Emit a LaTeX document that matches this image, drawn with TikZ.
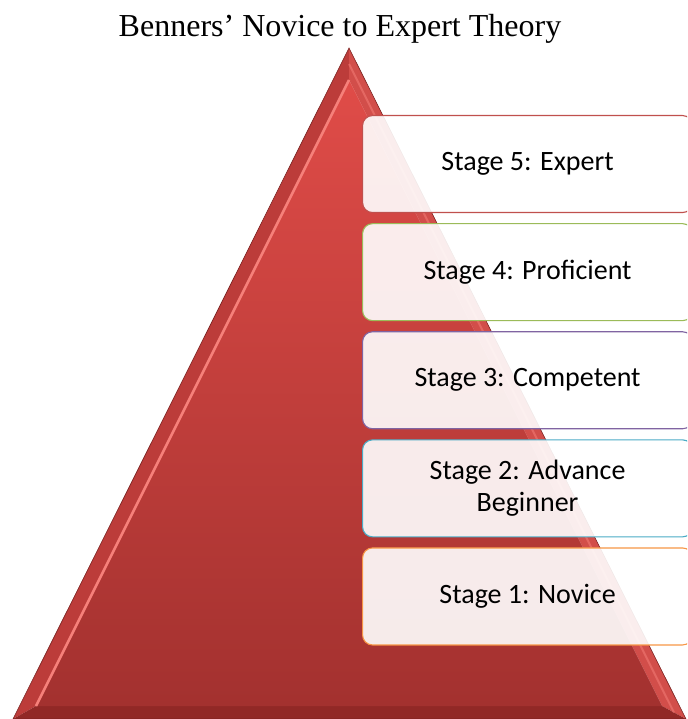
\documentclass[tikz,border=0pt]{standalone}
\usepackage{fontspec}
\setmainfont{Liberation Serif}
\newfontfamily\stagefont{Carlito}
\usepackage{tikz}
\usetikzlibrary{positioning,calc}
\usepackage{xcolor}

\definecolor{pyrdark}{RGB}{120,32,30}
\definecolor{pyrtop}{RGB}{224,76,72}
\definecolor{pyrbottom}{RGB}{163,49,47}
\definecolor{bevleft}{RGB}{188,60,58}
\definecolor{bevshine}{RGB}{246,128,122}
\definecolor{bevright}{RGB}{210,78,74}
\definecolor{bevbottom}{RGB}{145,40,38}
\definecolor{expertc}{RGB}{192,80,77}
\definecolor{proficientc}{RGB}{155,187,89}
\definecolor{competentc}{RGB}{128,100,162}
\definecolor{advancec}{RGB}{75,172,198}
\definecolor{novicec}{RGB}{247,150,70}

\begin{document}
\begin{tikzpicture}[x=1pt, y=-1pt,
  stagebox/.style={draw, line width=1.1pt, rounded corners=10pt, fill=white,
    fill opacity=0.9, text opacity=1, minimum width=330pt, minimum height=97pt,
    inner sep=0pt, align=center, font=\stagefont\fontsize{28}{32}\selectfont}]

  % Page
  \useasboundingbox (0,0) rectangle (687,719);
  \clip (0,0) rectangle (687,719);

  % Title
  \node[font=\fontsize{32}{36}\selectfont] (title) at (340,29) {Benners' Novice to Expert Theory};

  % Pyramid
  \coordinate (top) at (349,48);
  \coordinate (bl) at (13,719);
  \coordinate (br) at (686,719);
  \coordinate (itop) at (349,80);
  \coordinate (ibl) at (36,706);
  \coordinate (ibr) at (662,706);

  \fill[bevleft] (top) -- (bl) -- (ibl) -- (itop) -- cycle;
  \fill[bevright] (top) -- (br) -- (ibr) -- (itop) -- cycle;
  \fill[bevbottom] (bl) -- (br) -- (ibr) -- (ibl) -- cycle;
  \shade[top color=pyrtop, bottom color=pyrbottom] (itop) -- (ibr) -- (ibl) -- cycle;
  \draw[bevshine, line width=2.5pt] (itop) -- (ibl);
  \draw[bevshine, opacity=0.5, line width=2pt] ($(top)!0.5!(itop)$) -- ($(br)!0.5!(ibr)$);
  \draw[pyrdark, line width=0.6pt] (top) -- (br) -- (bl) -- cycle;

  % Stages
  \node[stagebox, draw=expertc, anchor=north west] (expert) at (362,115) {Stage 5: Expert};
  \node[stagebox, draw=proficientc, below=10pt of expert] (proficient) {Stage 4: Proficient};
  \node[stagebox, draw=competentc, below=10pt of proficient] (competent) {Stage 3: Competent};
  \node[stagebox, draw=advancec, below=10pt of competent] (advance) {Stage 2: Advance\\Beginner};
  \node[stagebox, draw=novicec, below=10pt of advance] (novice) {Stage 1: Novice};

\end{tikzpicture}
\end{document}
